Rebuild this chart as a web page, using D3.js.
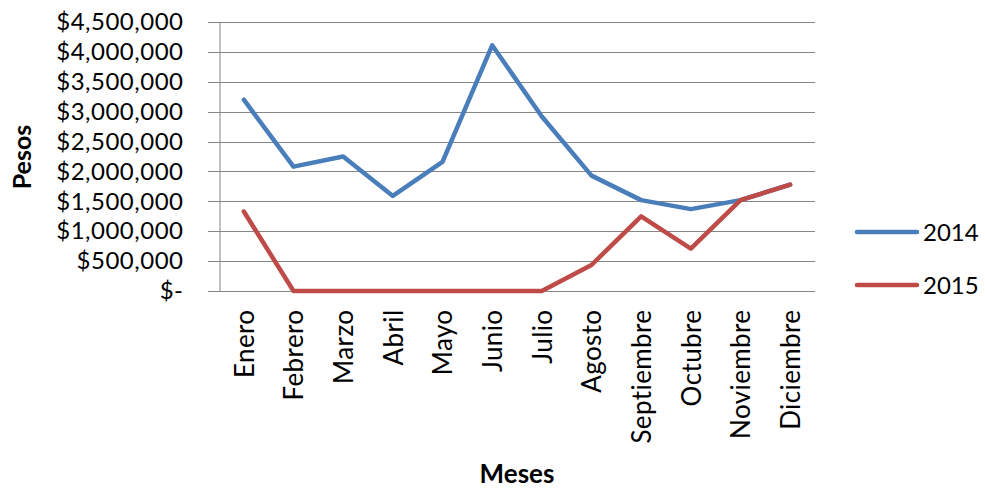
<!DOCTYPE html>
<html>
<head>
<meta charset="utf-8">
<script src="https://cdn.jsdelivr.net/npm/d3@7"></script>
<style>
  html, body { margin: 0; padding: 0; background: #fff; }
  svg { display: block; }
  text { font-family: Lato, "Open Sans", sans-serif; fill: #000; }
</style>
</head>
<body>
<svg id="chart" width="985" height="489"></svg>
<script>
// Monthly amounts in pesos
const months = ["Enero", "Febrero", "Marzo", "Abril", "Mayo", "Junio", "Julio",
                "Agosto", "Septiembre", "Octubre", "Noviembre", "Diciembre"];
const values2014 = [3200000, 2080000, 2250000, 1590000, 2160000, 4110000, 2920000,
                    1930000, 1520000, 1370000, 1520000, 1780000];
const values2015 = [1330000, 0, 0, 0, 0, 0, 0,
                    435000, 1250000, 710000, 1520000, 1780000];
const seriesNames = ["2014", "2015"];
const yTicks = [0, 500000, 1000000, 1500000, 2000000, 2500000, 3000000, 3500000, 4000000, 4500000];

const series = [
  { name: seriesNames[0], values: values2014, color: "#4a7ebb" },
  { name: seriesNames[1], values: values2015, color: "#be4b48" }
];

const svg = d3.select("#chart");
const plotLeft = 219, plotRight = 815, plotTop = 22, plotBottom = 291;

const x = d3.scalePoint().domain(months).range([plotLeft, plotRight]).padding(0.5);
const y = d3.scaleLinear().domain([0, 4500000]).range([plotBottom, plotTop]);

const gridColor = "#868686";

// horizontal gridlines (extend slightly left of the axis as tick marks)
svg.append("g")
  .selectAll("line")
  .data(yTicks)
  .join("line")
  .attr("x1", plotLeft - 11)
  .attr("x2", plotRight)
  .attr("y1", d => Math.round(y(d)) + 0.5)
  .attr("y2", d => Math.round(y(d)) + 0.5)
  .attr("stroke", gridColor)
  .attr("stroke-width", 1);

// y axis
const fmt = d3.format(",");
const yAxis = svg.append("g")
  .attr("transform", `translate(${plotLeft + 0.5},0)`)
  .call(d3.axisLeft(y)
    .tickValues(yTicks)
    .tickSizeInner(0)
    .tickSizeOuter(0)
    .tickPadding(36)
    .tickFormat(d => d === 0 ? "$-" : "$" + fmt(d)));
yAxis.select(".domain").attr("stroke", gridColor);
yAxis.selectAll("text")
  .style("font-size", "24px")
  .style("letter-spacing", "0.5px")
  .style("font-family", "Lato, sans-serif")
  .attr("fill", "#000");

// x axis with rotated month labels
const xAxis = svg.append("g")
  .attr("transform", `translate(0,${plotBottom + 0.5})`)
  .call(d3.axisBottom(x).tickSize(0));
xAxis.select(".domain").remove();
xAxis.selectAll("text")
  .attr("transform", "rotate(-90)")
  .attr("x", -18)
  .attr("y", 0)
  .attr("dy", "0.36em")
  .attr("text-anchor", "end")
  .attr("fill", "#000")
  .style("font-size", "26px")
  .style("letter-spacing", "0.4px")
  .style("font-family", "Lato, sans-serif");

// series lines
const line = d3.line()
  .x((d, i) => x(months[i]))
  .y(d => y(d));

svg.append("g")
  .selectAll("path")
  .data(series)
  .join("path")
  .attr("d", d => line(d.values))
  .attr("fill", "none")
  .attr("stroke", d => d.color)
  .attr("stroke-width", 4.5)
  .attr("stroke-linejoin", "round")
  .attr("stroke-linecap", "round");

// axis titles
svg.append("text")
  .attr("transform", "translate(31,157) rotate(-90)")
  .attr("text-anchor", "middle")
  .style("font-size", "25px")
  .style("font-weight", "bold")
  .text("Pesos");

svg.append("text")
  .attr("x", 517)
  .attr("y", 483)
  .attr("text-anchor", "middle")
  .style("font-size", "26px")
  .style("font-weight", "bold")
  .text("Meses");

// legend
const legend = svg.append("g")
  .selectAll("g")
  .data(series)
  .join("g")
  .attr("transform", (d, i) => `translate(857,${232 + i * 53})`);
legend.append("line")
  .attr("x1", 0).attr("x2", 60)
  .attr("stroke", d => d.color)
  .attr("stroke-width", 4.5)
  .attr("stroke-linecap", "round");
legend.append("text")
  .attr("x", 66)
  .attr("dy", "0.36em")
  .style("font-size", "24px")
  .text(d => d.name);
</script>
</body>
</html>
